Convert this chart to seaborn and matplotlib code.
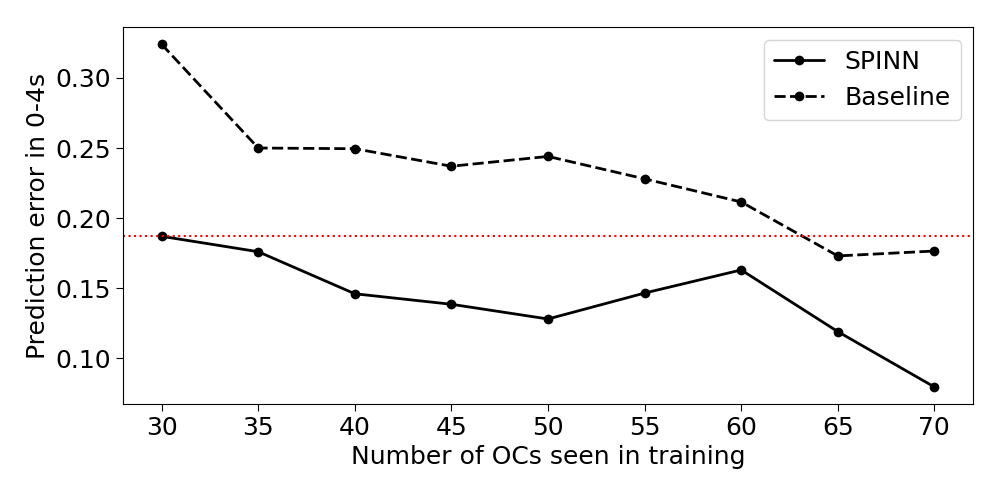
import pandas as pd
import matplotlib
matplotlib.use("Agg")
import matplotlib.pyplot as plt
import seaborn as sns

# datos
n_ocs = [30, 35, 40, 45, 50, 55, 60, 65, 70]
spinn = [0.187, 0.176, 0.146, 0.1385, 0.128, 0.1465, 0.163, 0.119, 0.0795]
baseline = [0.324, 0.250, 0.2495, 0.237, 0.244, 0.228, 0.2115, 0.173, 0.1765]
umbral = 0.187

sns.set_style("ticks", {"text.color": "black", "axes.labelcolor": "black",
                        "xtick.color": "black", "ytick.color": "black",
                        "axes.edgecolor": "black"})
plt.rcParams['font.family'] = ['DejaVu Sans']
plt.rcParams['font.size'] = 18

df = pd.DataFrame({
    "OCs": n_ocs * 2,
    "error": spinn + baseline,
    "modelo": ["SPINN"] * len(n_ocs) + ["Baseline"] * len(n_ocs),
})

fig, ax = plt.subplots(figsize=(10, 4.94), dpi=100)
fig.subplots_adjust(left=0.123, right=0.973, top=0.945, bottom=0.182)

sns.lineplot(data=df, x="OCs", y="error", style="modelo",
             dashes={"SPINN": "", "Baseline": (4, 1.6)},
             markers={"SPINN": "o", "Baseline": "o"},
             color="black", linewidth=2, markersize=7, markeredgewidth=0, ax=ax)
ax.axhline(umbral, color="red", linestyle=":", linewidth=1.5)

for s in ax.spines.values():
    s.set_visible(True)
    s.set_color("black")
ax.tick_params(labelsize=18, direction="out", length=5, color="black", labelcolor="black")
ax.set_xticks(n_ocs)
ax.set_xlabel("Number of OCs seen in training", fontsize=18, color="black")
ax.set_ylabel("Prediction error in 0-4s", fontsize=18, color="black")
leg = ax.legend(title=None, fontsize=18, loc="upper right", frameon=True)
for t in leg.get_texts():
    t.set_color("black")

fig.savefig("out.png", dpi=100)
